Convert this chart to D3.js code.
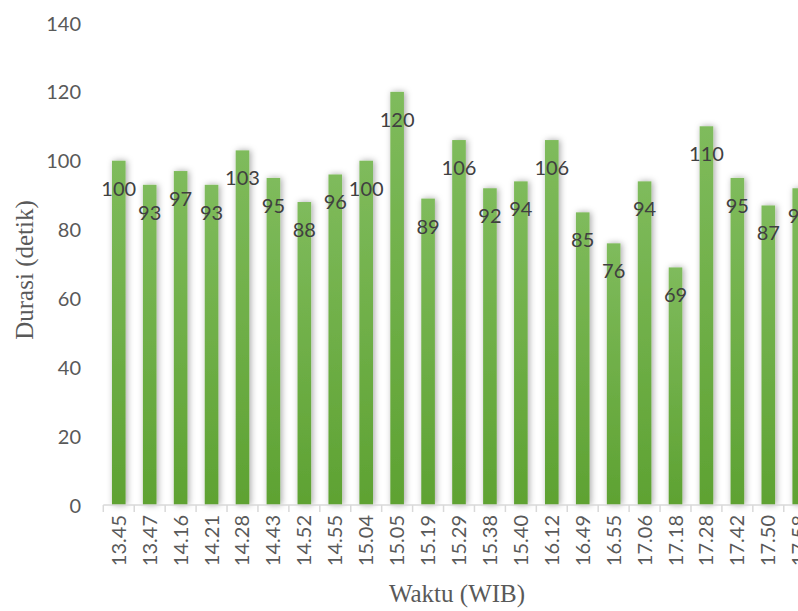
<!DOCTYPE html>
<html>
<head>
<meta charset="utf-8">
<script src="https://cdn.jsdelivr.net/npm/d3@7"></script>
<style>
  html, body { margin: 0; padding: 0; background: #fff; }
  svg { display: block; }
</style>
</head>
<body>
<svg id="chart" width="798" height="611"></svg>
<script>
// Waktu pengamatan (WIB) dan durasi (detik)
const categories = ["13.45","13.47","14.16","14.21","14.28","14.43","14.52","14.55","15.04","15.05","15.19","15.29","15.38","15.40","16.12","16.49","16.55","17.06","17.18","17.28","17.42","17.50","17.58"];
const durations = [100, 93, 97, 93, 103, 95, 88, 96, 100, 120, 89, 106, 92, 94, 106, 85, 76, 94, 69, 110, 95, 87, 92];
const yTicks = [0, 20, 40, 60, 80, 100, 120, 140];

const svg = d3.select("#chart");
const plot = { left: 103.3, right: 814.7, top: 23, bottom: 505 };

const x = d3.scaleBand()
  .domain(categories)
  .range([plot.left, plot.right])
  .paddingInner(0.56)
  .paddingOuter(0.28);

const y = d3.scaleLinear().domain([0, 140]).range([plot.bottom, plot.top]);

const defs = svg.append("defs");
const grad = defs.append("linearGradient")
  .attr("id", "barFill").attr("x1", 0).attr("y1", 0).attr("x2", 0).attr("y2", 1);
grad.append("stop").attr("offset", "0%").attr("stop-color", "#7fbb5c");
grad.append("stop").attr("offset", "100%").attr("stop-color", "#5ea232");

const shadow = defs.append("filter").attr("id", "barShadow")
  .attr("x", "-60%").attr("y", "-10%").attr("width", "220%").attr("height", "120%");
shadow.append("feDropShadow")
  .attr("dx", 1.5).attr("dy", 0).attr("stdDeviation", 3)
  .attr("flood-color", "#000").attr("flood-opacity", 0.35);

// Bars
svg.append("g").selectAll("rect")
  .data(durations)
  .join("rect")
  .attr("x", (d, i) => x(categories[i]))
  .attr("y", d => y(d))
  .attr("width", x.bandwidth())
  .attr("height", d => y(0) - y(d))
  .attr("fill", "url(#barFill)")
  .attr("filter", "url(#barShadow)");

// Value labels, inside the bar tops
svg.append("g").selectAll("text")
  .data(durations)
  .join("text")
  .attr("x", (d, i) => x(categories[i]) + x.bandwidth() / 2)
  .attr("y", d => y(d) + 35)
  .attr("text-anchor", "middle")
  .attr("font-family", "Lato, sans-serif")
  .attr("font-size", 20)
  .attr("fill", "#404040")
  .text(d => d);

// Y axis (labels only)
const yAxis = d3.axisLeft(y).tickValues(yTicks).tickSize(0).tickPadding(0);
const gy = svg.append("g").attr("transform", "translate(81,0)").call(yAxis);
gy.select(".domain").remove();
gy.selectAll("text")
  .attr("font-family", "Lato, sans-serif")
  .attr("font-size", 20)
  .attr("fill", "#595959")
  .attr("dy", "0.35em");

// X axis with category ticks between bars
const xAxis = d3.axisBottom(x).tickSize(0).tickPadding(0);
const gx = svg.append("g").attr("transform", `translate(0,${plot.bottom})`).call(xAxis);
gx.select(".domain").attr("stroke", "#d9d9d9").attr("stroke-width", 1.5)
  .attr("d", `M${plot.left},0H${plot.right}`);
gx.selectAll(".tick line").remove();
gx.selectAll(".tick text")
  .attr("font-family", "Lato, sans-serif")
  .attr("font-size", 20)
  .attr("fill", "#595959")
  .attr("text-anchor", "end")
  .attr("transform", "translate(0,10) rotate(-90)")
  .attr("x", 0)
  .attr("y", 0)
  .attr("dy", "0.35em");

const step = x.step();
const boundaries = d3.range(categories.length + 1).map(i => plot.left + i * step);
svg.append("g").selectAll("line")
  .data(boundaries)
  .join("line")
  .attr("x1", d => d).attr("x2", d => d)
  .attr("y1", plot.bottom).attr("y2", plot.bottom + 7)
  .attr("stroke", "#d9d9d9").attr("stroke-width", 1.5);

// Axis titles
svg.append("text")
  .attr("transform", `translate(33,${(plot.top + plot.bottom) / 2 + 6}) rotate(-90)`)
  .attr("text-anchor", "middle")
  .attr("font-family", "'Liberation Serif', 'Times New Roman', serif")
  .attr("font-size", 25)
  .attr("fill", "#595959")
  .text("Durasi (detik)");

svg.append("text")
  .attr("x", (plot.left + plot.right) / 2 - 2)
  .attr("y", 602)
  .attr("text-anchor", "middle")
  .attr("font-family", "'Liberation Serif', 'Times New Roman', serif")
  .attr("font-size", 25)
  .attr("fill", "#595959")
  .text("Waktu (WIB)");
</script>
</body>
</html>
